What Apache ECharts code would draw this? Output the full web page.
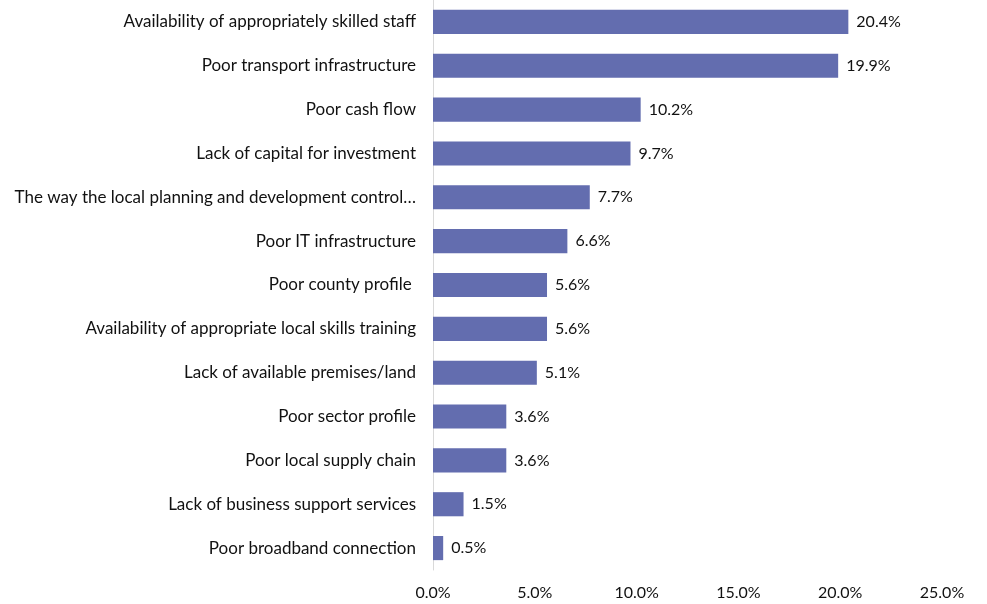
<!DOCTYPE html>
<html>
<head>
<meta charset="utf-8">
<script src="https://cdn.jsdelivr.net/npm/echarts@6/dist/echarts.min.js"></script>
<style>
  html, body { margin: 0; padding: 0; background: #fff; }
  #chart { width: 987px; height: 604px; }
</style>
</head>
<body>
<div id="chart"></div>
<script>
// categories listed top to bottom
const categories = [
    'Availability of appropriately skilled staff',
    'Poor transport infrastructure',
    'Poor cash flow',
    'Lack of capital for investment',
    'The way the local planning and development control\u2026',
    'Poor IT infrastructure',
    'Poor county profile ',
    'Availability of appropriate local skills training',
    'Lack of available premises/land',
    'Poor sector profile',
    'Poor local supply chain',
    'Lack of business support services',
    'Poor broadband connection'
];
const values = [20.4, 19.9, 10.2, 9.7, 7.7, 6.6, 5.6, 5.6, 5.1, 3.6, 3.6, 1.5, 0.5];
const xTicks = [0, 5, 10, 15, 20, 25];

const font = 'Lato, "Open Sans", sans-serif';
const chart = echarts.init(document.getElementById('chart'));

chart.setOption({
    animation: false,
    grid: {
        left: 433,
        width: 509,
        top: 0,
        height: 570
    },
    xAxis: {
        type: 'value',
        min: xTicks[0],
        max: xTicks[xTicks.length - 1],
        interval: 5,
        axisLine: {show: false},
        axisTick: {show: false},
        splitLine: {show: false},
        axisLabel: {
            margin: 15,
            fontFamily: font,
            fontSize: 16,
            color: '#111',
            formatter: v => v.toFixed(1) + '%'
        }
    },
    yAxis: {
        type: 'category',
        inverse: true,
        data: categories,
        axisLine: {lineStyle: {color: '#d9d9d9', width: 1}},
        axisTick: {show: false},
        axisLabel: {
            margin: 17,
            fontFamily: font,
            fontSize: 17,
            color: '#111'
        }
    },
    series: [
        {
            type: 'bar',
            data: values,
            barCategoryGap: '45%',
            itemStyle: {color: '#636daf'},
            label: {
                show: true,
                position: 'right',
                distance: 8,
                fontFamily: font,
                fontSize: 16,
                color: '#111',
                formatter: p => p.value.toFixed(1) + '%'
            }
        }
    ]
});
</script>
</body>
</html>
